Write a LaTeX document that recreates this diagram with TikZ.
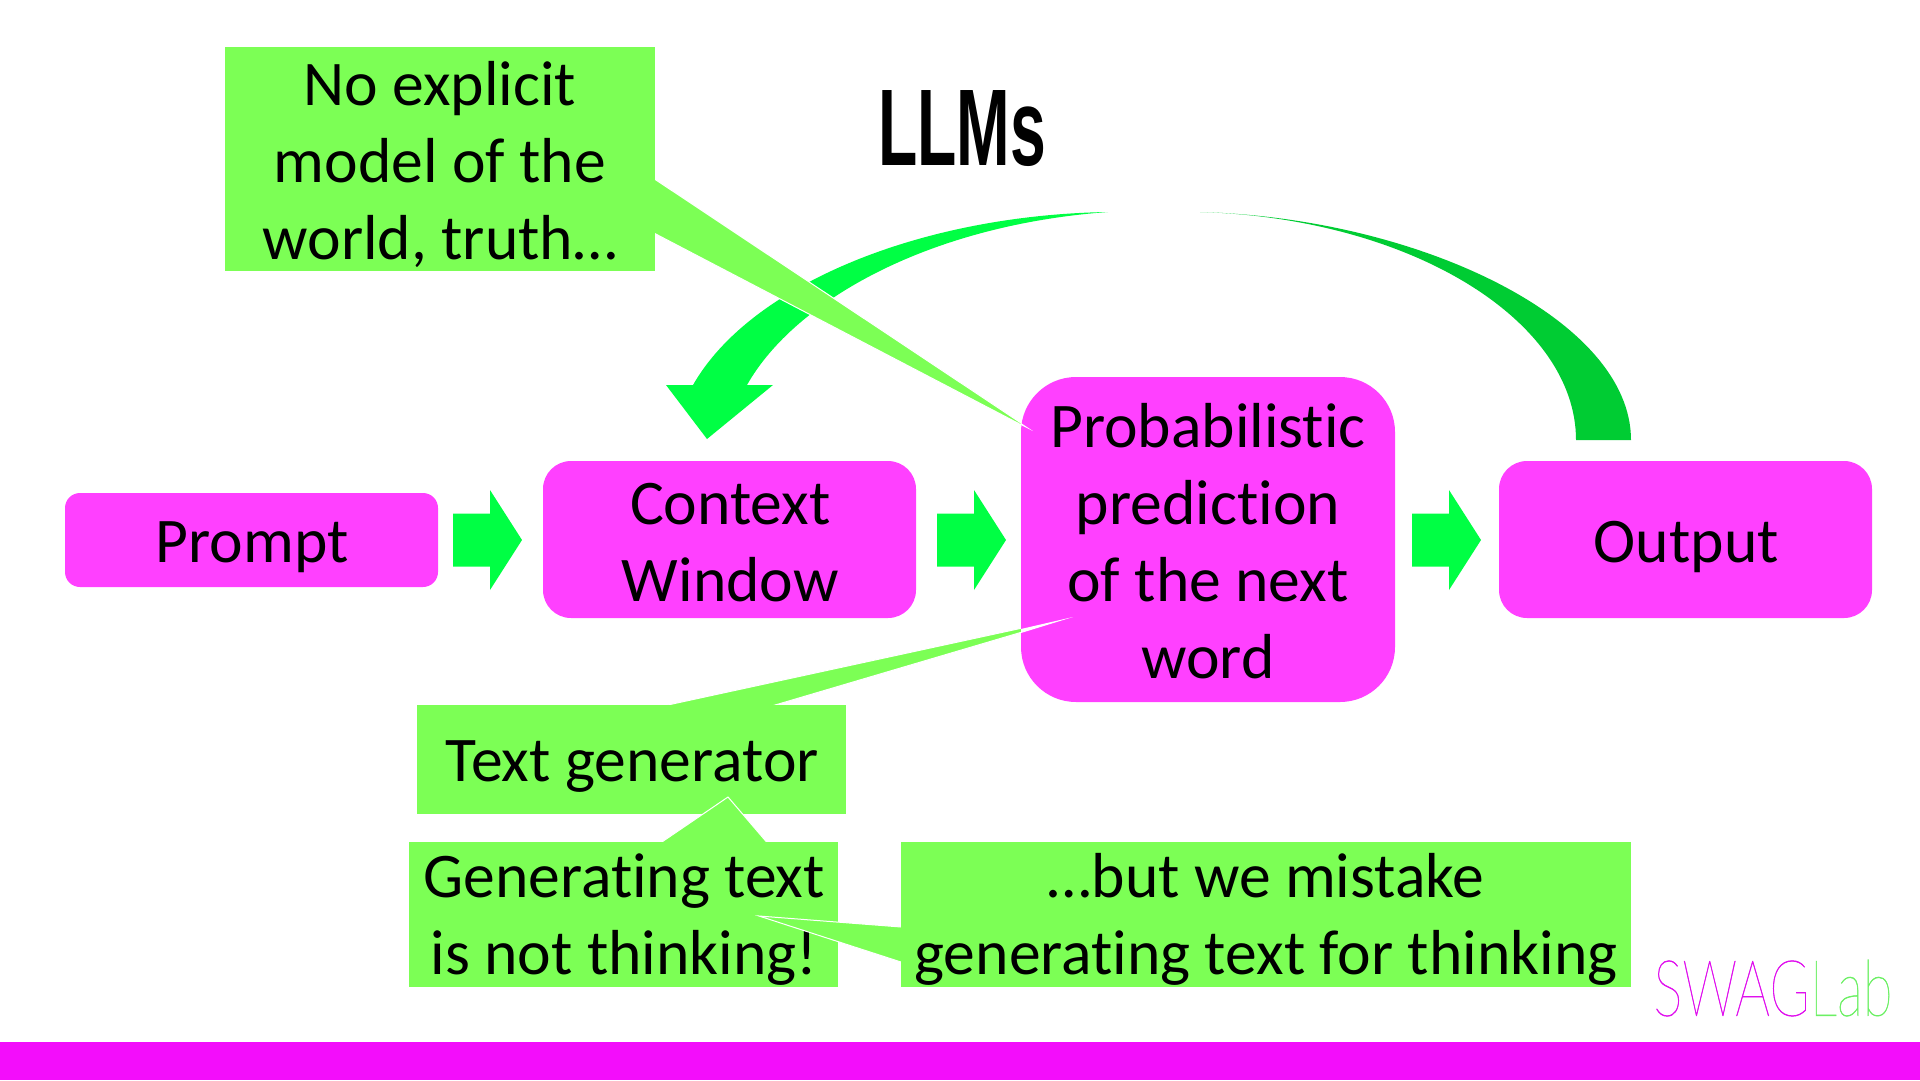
\documentclass[tikz,border=0pt]{standalone}
\usepackage{fontspec}
\setmainfont{Carlito}[Ligatures=NoCommon]
\newfontfamily\titlefont{Liberation Sans}
\newfontfamily\swagfont{Lato Thin}[FakeBold=.6]
\definecolor{boxpink}{HTML}{FF40FF}
\definecolor{notegreen}{HTML}{7CFF55}
\definecolor{arrowgreen}{HTML}{00FF44}
\definecolor{darkgreen}{HTML}{00CC33}
\definecolor{barpink}{HTML}{F30DFB}
\definecolor{logopink}{HTML}{E010EE}
\definecolor{logogreen}{HTML}{6CF064}
\begin{document}
\begin{tikzpicture}[x=1pt,y=-1pt,
  pinkbox/.style={fill=boxpink,draw=none,inner sep=0pt},
  notebox/.style={fill=notegreen,draw=none,inner sep=0pt},
  labeltext/.style={inner sep=0pt,align=center,text=black,font=\fontsize{63.6}{77}\selectfont},
  pointer/.style={fill=notegreen,draw=white,line width=1pt,line join=miter},
  blockarrow/.pic={\fill[arrowgreen] (0,-26.5) -- (37,-26.5) -- (37,-50) -- (69,0) -- (37,50) -- (37,26.5) -- (0,26.5) -- cycle;}]
\useasboundingbox (0,0) rectangle (1920,1080);
\fill[white] (0,0) rectangle (1920,1080);
\fill[barpink] (0,1042) rectangle (1920,1080);
% title
\node[inner sep=0pt,anchor=center,text=black,font=\titlefont\bfseries\fontsize{109}{110}\selectfont,xscale=.59] (title) at (962,129) {LLMs};
% loop arcs
\fill[arrowgreen] (1108,212) .. controls (920,215) and (750,285) .. (693,385) -- (666,385) -- (707,439) -- (773,385) -- (747,385) .. controls (795,300) and (930,225) .. cycle;
\fill[darkgreen] (1200,212) .. controls (1420,218) and (1631,320) .. (1631,440) -- (1576,440) .. controls (1576,320) and (1410,218) .. cycle;
% callout pointers under their boxes
\filldraw[pointer] (650,176) -- (1033,431) -- (650,231) -- cycle;
\filldraw[pointer] (654,708) -- (1073,617) -- (765,708) -- cycle;
% main boxes
\node[pinkbox,rounded corners=15pt,minimum width=373pt,minimum height=94pt] (prompt) at (251.5,540) {};
\node[pinkbox,rounded corners=28pt,minimum width=373pt,minimum height=157pt] (context) at (729.5,539.5) {};
\node[pinkbox,rounded corners=55pt,minimum width=374pt,minimum height=325pt] (predict) at (1208,539.5) {};
\node[pinkbox,rounded corners=28pt,minimum width=373pt,minimum height=157pt] (output) at (1685.5,539.5) {};
\node[labeltext] (prompttext) at ([yshift=-7pt,xshift=.8pt]prompt.center) {Prompt};
\node[labeltext] (contexttext) at ([yshift=-3pt,xshift=.8pt]context.center) {Context\\Window};
\node[labeltext] (predicttext) at ([yshift=-1.5pt]predict.center) {Probabilistic\\prediction\\of the next\\word};
\node[labeltext] (outputtext) at ([yshift=-7pt,xshift=.8pt]output.center) {Output};
\fill[white] (1021,423) -- (1033,431) -- (1021,425) -- cycle;
\fill[white] (1021,629) -- (1073,617) -- (1021,633) -- cycle;
% block arrows
\pic at (453,540) {blockarrow};
\pic at (937,540) {blockarrow};
\pic at (1412,540) {blockarrow};
% notes
\node[notebox,minimum width=430pt,minimum height=224pt] (nomodel) at (440,159) {};
\node[labeltext] (nomodeltext) at ([yshift=-5pt]nomodel.center) {No explicit\\model of the\\world, truth…};
\node[notebox,minimum width=429pt,minimum height=109pt] (textgen) at (631.5,759.5) {};
\node[labeltext] (textgentext) at ([yshift=-7.5pt,xshift=.8pt]textgen.center) {Text generator};
\filldraw[pointer] (656,846) -- (728,797) -- (770,846) -- cycle;
\node[notebox,minimum width=429pt,minimum height=145pt] (notthink) at (623.5,914.5) {};
\node[labeltext] (notthinktext) at ([yshift=-5pt,xshift=.6pt]notthink.center) {Generating text\\is not thinking!};
\filldraw[pointer] (905,927.3) -- (759,916) -- (905,963.3) -- cycle;
\node[notebox,minimum width=730pt,minimum height=145pt] (mistake) at (1266,914.5) {};
\node[labeltext] (mistaketext) at ([yshift=-5pt]mistake.center) {…but we mistake\\generating text for thinking};
% logo
\node[inner sep=0pt,anchor=center,font=\swagfont\fontsize{78}{80}\selectfont,xscale=.7] (logo) at (1773,988) {\textcolor{logopink}{SWAG}\textcolor{logogreen}{Lab}};
\end{tikzpicture}
\end{document}
